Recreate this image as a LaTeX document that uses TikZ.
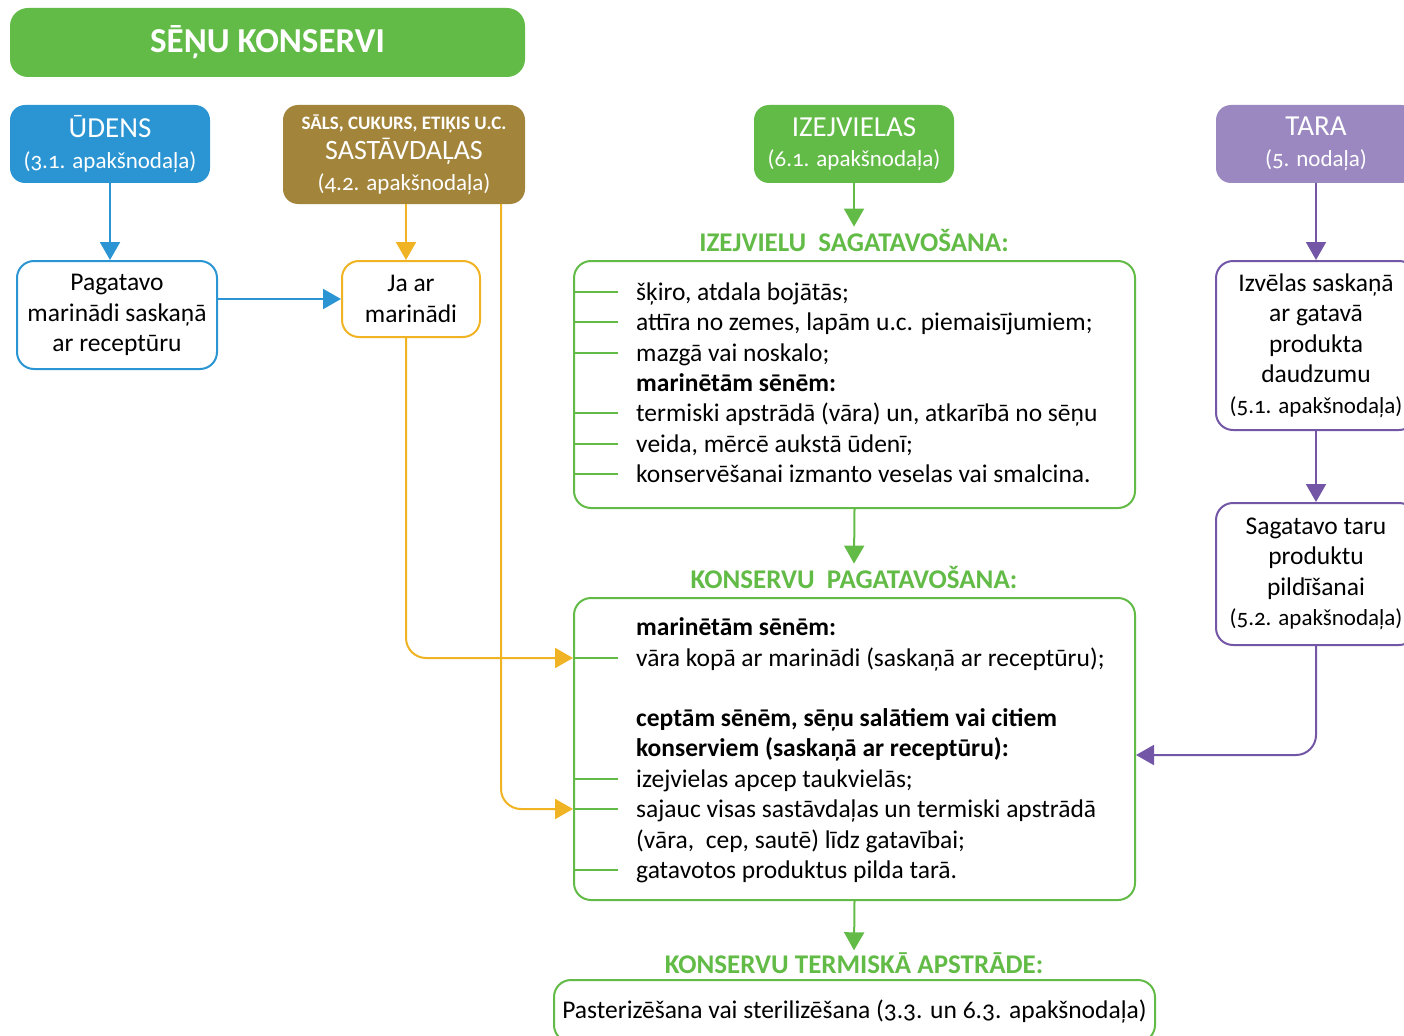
\documentclass[tikz,border=0pt]{standalone}
\usepackage{fontspec}
\setmainfont{Carlito}[Numbers=OldStyle]
\usetikzlibrary{arrows.meta}
\usetikzlibrary{shapes}

\definecolor{konsGreen}{HTML}{62BB46}
\definecolor{konsBlue}{HTML}{2B95D3}
\definecolor{konsBrown}{HTML}{A3843B}
\definecolor{konsYellow}{HTML}{F0B323}
\definecolor{konsLilac}{HTML}{9B88C1}
\definecolor{konsPurple}{HTML}{7357A6}

\begin{document}
\begin{tikzpicture}[x = 1pt, y = -1pt, font = \fontsize{25.5}{30.5}\selectfont]
	\tikzstyle{headStyle} = [rounded corners = 15pt, fill, text = white, align = center, inner sep = 0pt]
	\tikzstyle{boxStyle} = [rounded corners = 17pt, draw, line width = 2pt, fill = white, align = center, inner sep = 0pt, text = black]
	\tikzstyle{arrowStyle} = [line width = 2pt, rounded corners = 20pt, -{Triangle[length = 18pt, width = 20pt]}]
	\tikzstyle{tickStyle} = [line width = 1.6pt, konsGreen]
	\tikzstyle{itemStyle} = [anchor = base west, inner sep = 0pt, yshift = -8pt]
	\tikzstyle{stepLabel} = [konsGreen, font = \fontsize{27}{30}\selectfont\bfseries, inner sep = 2pt]
	\useasboundingbox (0, 0) rectangle (1404, 1035);
	% heads
	\node[headStyle, fill = konsGreen, minimum width = 515pt, minimum height = 69pt, rounded corners = 18pt, font = \fontsize{35}{38}\selectfont\bfseries] (title) at (267.5, 42.5) {SĒŅU KONSERVI};
	\node[headStyle, fill = konsBlue, minimum width = 200pt, minimum height = 78pt] (udens) at (110, 144) {\fontsize{29}{30}\selectfont ŪDENS\\ \fontsize{23}{30}\selectfont (3.1. apakšnodaļa)};
	\node[headStyle, fill = konsBrown, minimum width = 242pt, minimum height = 99pt] (sastav) at (404, 154.5) {\fontsize{19}{27}\selectfont\bfseries SĀLS, CUKURS, ETIĶIS U.C.\\ \fontsize{28}{28}\selectfont SASTĀVDAĻAS\\ \fontsize{23}{28}\selectfont (4.2. apakšnodaļa)};
	\node[headStyle, fill = konsGreen, minimum width = 200pt, minimum height = 78pt] (izej) at (854, 144) {\fontsize{29}{30}\selectfont IZEJVIELAS\\ \fontsize{23}{30}\selectfont (6.1. apakšnodaļa)};
	\node[headStyle, fill = konsLilac, minimum width = 200pt, minimum height = 78pt] (tara) at (1316, 144) {\fontsize{29}{30}\selectfont TARA\\ \fontsize{23}{30}\selectfont (5. nodaļa)};
	% boxes
	\node[boxStyle, draw = konsBlue, minimum width = 200pt, minimum height = 108pt] (pagat) at (117, 315) {Pagatavo\\ marinādi saskaņā\\ ar receptūru};
	\node[boxStyle, draw = konsYellow, minimum width = 138pt, minimum height = 76pt] (jaar) at (411, 299) {Ja ar\\ marinādi};
	\node[boxStyle, draw = konsPurple, minimum width = 200pt, minimum height = 169pt] (izvelas) at (1316, 345.5) {Izvēlas saskaņā\\ ar gatavā\\ produkta\\ daudzumu\\ {\fontsize{23}{28}\selectfont (5.1. apakšnodaļa)}};
	\node[boxStyle, draw = konsPurple, minimum width = 200pt, minimum height = 142pt] (sagat) at (1316, 574) {Sagatavo taru\\ produktu\\ pildīšanai\\ {\fontsize{23}{28}\selectfont (5.2. apakšnodaļa)}};
	\node[boxStyle, draw = konsGreen, minimum width = 561pt, minimum height = 247pt] (izejbox) at (854.5, 384.5) {};
	\node[boxStyle, draw = konsGreen, minimum width = 561pt, minimum height = 302pt] (konsbox) at (854.5, 749) {};
	\node[boxStyle, draw = konsGreen, minimum width = 601pt, minimum height = 62pt] (final) at (854.5, 1011) {Pasterizēšana vai sterilizēšana (3.3. un 6.3. apakšnodaļa)};
	% step labels
	\node[stepLabel] (lblA) at (854, 240) {IZEJVIELU\ \ SAGATAVOŠANA:};
	\node[stepLabel] (lblB) at (854, 577) {KONSERVU\ \ PAGATAVOŠANA:};
	\node[stepLabel] (lblC) at (854, 963) {KONSERVU TERMISKĀ APSTRĀDE:};
	% items
	\foreach \n/\yy/\txt/\tk in {a1/292/{šķiro, atdala bojātās;}/1, a2/322/{attīra no zemes, lapām u.c. piemaisījumiem;}/1, a3/353/{mazgā vai noskalo;}/1, a4/383/{\textbf{marinētām sēnēm:}}/0, a5/413/{termiski apstrādā (vāra) un, atkarībā no sēņu}/1, a6/444/{veida, mērcē aukstā ūdenī;}/1, a7/474/{konservēšanai izmanto veselas vai smalcina.}/1}{
		\node[itemStyle] (\n) at (636, \yy) {\txt};
		\coordinate (\n t) at ([yshift = 8pt]\n.base west);
		\ifnum\tk=1 \draw[tickStyle] (izejbox.west |- \n t) -- ([xshift = -18pt]\n t); \fi
	}
	\foreach \n/\yy/\txt/\tk in {b1/627/{\textbf{marinētām sēnēm:}}/0, b2/658/{vāra kopā ar marinādi (saskaņā ar receptūru);}/1, b3/718/{\textbf{ceptām sēnēm, sēņu salātiem vai citiem}}/0, b4/748/{\textbf{konserviem (saskaņā ar receptūru):}}/0, b5/779/{izejvielas apcep taukvielās;}/1, b6/809/{sajauc visas sastāvdaļas un termiski apstrādā}/1, b7/840/{(vāra,\ \ cep, sautē) līdz gatavībai;}/0, b8/870/{gatavotos produktus pilda tarā.}/1}{
		\node[itemStyle] (\n) at (636, \yy) {\txt};
		\coordinate (\n t) at ([yshift = 8pt]\n.base west);
		\ifnum\tk=1 \draw[tickStyle] (konsbox.west |- \n t) -- ([xshift = -18pt]\n t); \fi
	}
	% arrows
	\draw[arrowStyle, konsBlue] (udens.south) -- (pagat.north -| udens.south);
	\draw[arrowStyle, konsBlue] (pagat.east |- jaar.west) -- (jaar.west);
	\draw[arrowStyle, konsYellow] (sastav.south -| jaar.north) ++(-5, 0) -- ([xshift = -5pt]jaar.north);
	\draw[arrowStyle, konsYellow] ([xshift = -5pt]jaar.south) |- (konsbox.west |- b2t);
	\draw[arrowStyle, konsYellow] ([xshift = 97pt]sastav.south) |- (konsbox.west |- b6t);
	\draw[arrowStyle, konsGreen] (izej.south) -- (lblA.north);
	\draw[arrowStyle, konsGreen] (izejbox.south) -- (lblB.north);
	\draw[arrowStyle, konsGreen] (konsbox.south) -- (lblC.north);
	\draw[arrowStyle, konsPurple] (tara.south) -- (izvelas.north);
	\draw[arrowStyle, konsPurple] (izvelas.south) -- (sagat.north);
	\draw[arrowStyle, konsPurple] (sagat.south) |- ([yshift = -6pt]konsbox.east);
\end{tikzpicture}
\end{document}
